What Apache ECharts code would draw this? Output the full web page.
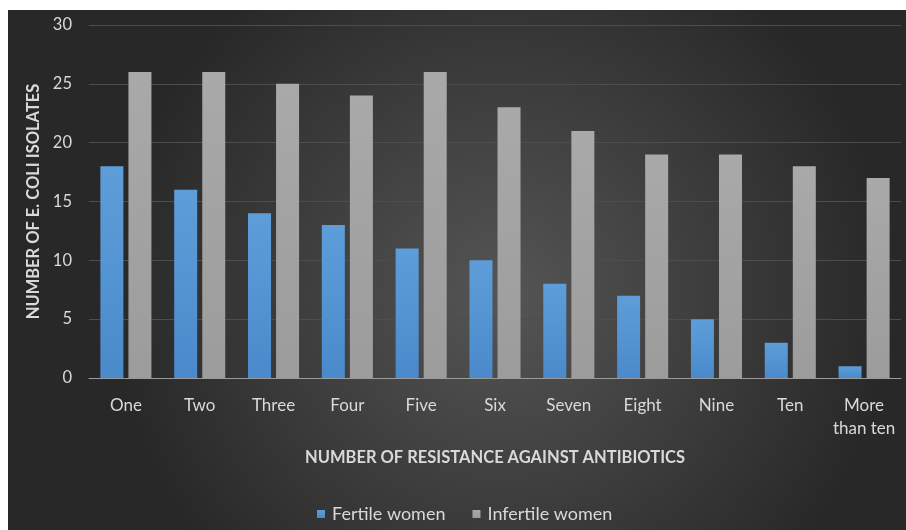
<!DOCTYPE html>
<html>
<head>
<meta charset="utf-8">
<script src="https://cdn.jsdelivr.net/npm/echarts@6/dist/echarts.min.js"></script>
<style>
html,body{margin:0;padding:0;background:#fff;width:906px;height:530px;overflow:hidden;}
#c{position:absolute;left:8px;top:10px;width:898px;height:520px;}
</style>
</head>
<body>
<div id="c"></div>
<script>
var categories = ['One','Two','Three','Four','Five','Six','Seven','Eight','Nine','Ten','More\nthan ten'];
var fertile = [18,16,14,13,11,10,8,7,5,3,1];
var infertile = [26,26,25,24,26,23,21,19,19,18,17];
var yTicks = {min:0, max:30, interval:5};

var txt = '#d9d9d9';
var font = 'Lato';
var chart = echarts.init(document.getElementById('c'));
chart.setOption({
  backgroundColor: {
    type:'radial', x:0.55, y:0.55, r:0.75,
    colorStops:[{offset:0,color:'#555555'},{offset:1,color:'#282828'}]
  },
  textStyle:{fontFamily:font},
  grid:{left:81, top:15, width:812, height:353, containLabel:false},
  legend:{
    left:304, top:490, itemWidth:8, itemHeight:8, itemGap:27,
    icon:'rect',
    textStyle:{color:txt, fontSize:18, fontFamily:font, padding:[0,0,0,2]},
    data:['Fertile women','Infertile women']
  },
  xAxis:{
    type:'category', data:categories,
    name:'NUMBER OF RESISTANCE AGAINST ANTIBIOTICS',
    nameLocation:'middle', nameGap:71,
    nameTextStyle:{color:txt, fontWeight:'bold', fontSize:16.5, fontFamily:font},
    axisLine:{lineStyle:{color:'#9a9a9a', width:1}},
    axisTick:{show:false},
    axisLabel:{color:txt, fontSize:17, margin:16, lineHeight:23, fontFamily:font, interval:0}
  },
  yAxis:{
    type:'value', min:yTicks.min, max:yTicks.max, interval:yTicks.interval,
    name:'NUMBER OF E. COLI ISOLATES',
    nameLocation:'middle', nameGap:46, nameRotate:90,
    nameTextStyle:{color:txt, fontWeight:'bold', fontSize:16.5, fontFamily:font},
    axisLine:{show:false}, axisTick:{show:false},
    splitLine:{lineStyle:{color:'#4d4d4d', width:1}},
    axisLabel:{color:txt, fontSize:16.5, margin:17, fontFamily:font}
  },
  series:[
    {name:'Fertile women', type:'bar', data:fertile, barWidth:23, barGap:'22%',
     itemStyle:{color:{type:'linear',x:0,y:0,x2:0,y2:1,colorStops:[{offset:0,color:'#5d9ed9'},{offset:1,color:'#4a8acb'}]}}},
    {name:'Infertile women', type:'bar', data:infertile, barWidth:23,
     itemStyle:{color:{type:'linear',x:0,y:0,x2:0,y2:1,colorStops:[{offset:0,color:'#a9a9a9'},{offset:1,color:'#9c9c9c'}]}}}
  ]
});
</script>
</body>
</html>
